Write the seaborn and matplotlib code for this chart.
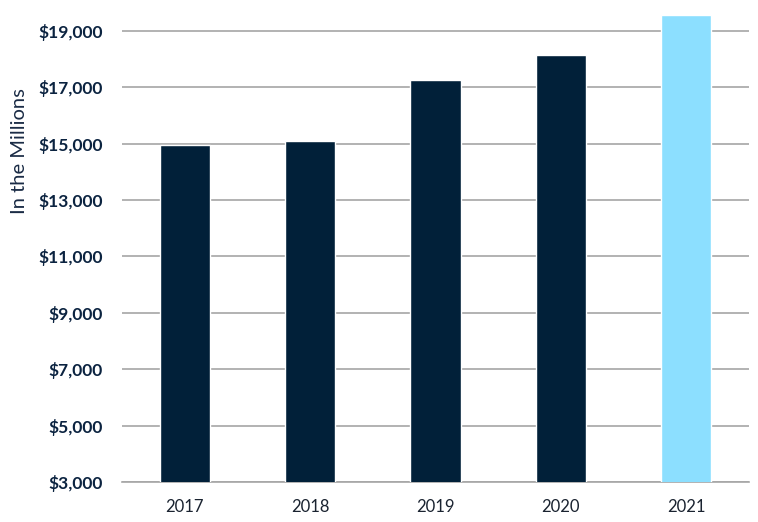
import seaborn as sns
import matplotlib.pyplot as plt
import pandas as pd

years = ["2017", "2018", "2019", "2020", "2021"]
values = [14940, 15080, 17250, 18135, 19580]
bar_colors = ["#012039", "#012039", "#012039", "#012039", "#8CDFFF"]
yticks = [3000, 5000, 7000, 9000, 11000, 13000, 15000, 17000, 19000]
ytick_labels = ["${:,}".format(v) for v in yticks]

sns.set_style("white")
plt.rcParams['font.family'] = ['Lato', 'DejaVu Sans']

df = pd.DataFrame({"year": years, "value": values})

fig = plt.figure(figsize=(7.58, 5.22), dpi=100)
ax = fig.add_axes([122 / 758, 40 / 522, 627 / 758, 468 / 522])

sns.barplot(data=df, x="year", y="value", hue="year", palette=bar_colors,
            legend=False, width=0.4, ax=ax, zorder=3, saturation=1)

ax.set_ylim(3000, 19600)
ax.set_yticks(yticks)
ax.set_yticklabels(ytick_labels, fontsize=12.5, fontweight='bold', color="#0B2340")
ax.yaxis.grid(True, color="#A6A6A6", linewidth=1.2, zorder=0)
ax.set_axisbelow(True)
for s in ["top", "right", "left"]:
    ax.spines[s].set_visible(False)
ax.spines["bottom"].set_color("#A6A6A6")
ax.spines["bottom"].set_linewidth(1.2)
ax.tick_params(axis="y", length=0, pad=14)
ax.tick_params(axis="x", length=0, pad=12, labelsize=12, labelcolor="#1A2330")
ax.set_xlabel("")
ax.set_ylabel("In the Millions", fontsize=14.5, color="#1A2B45")
# label sits above the axes centre in the original
ax.yaxis.set_label_coords(-0.163, 0.707)
ax.yaxis.label.set_verticalalignment("center")

fig.savefig("out.png", dpi=100)
